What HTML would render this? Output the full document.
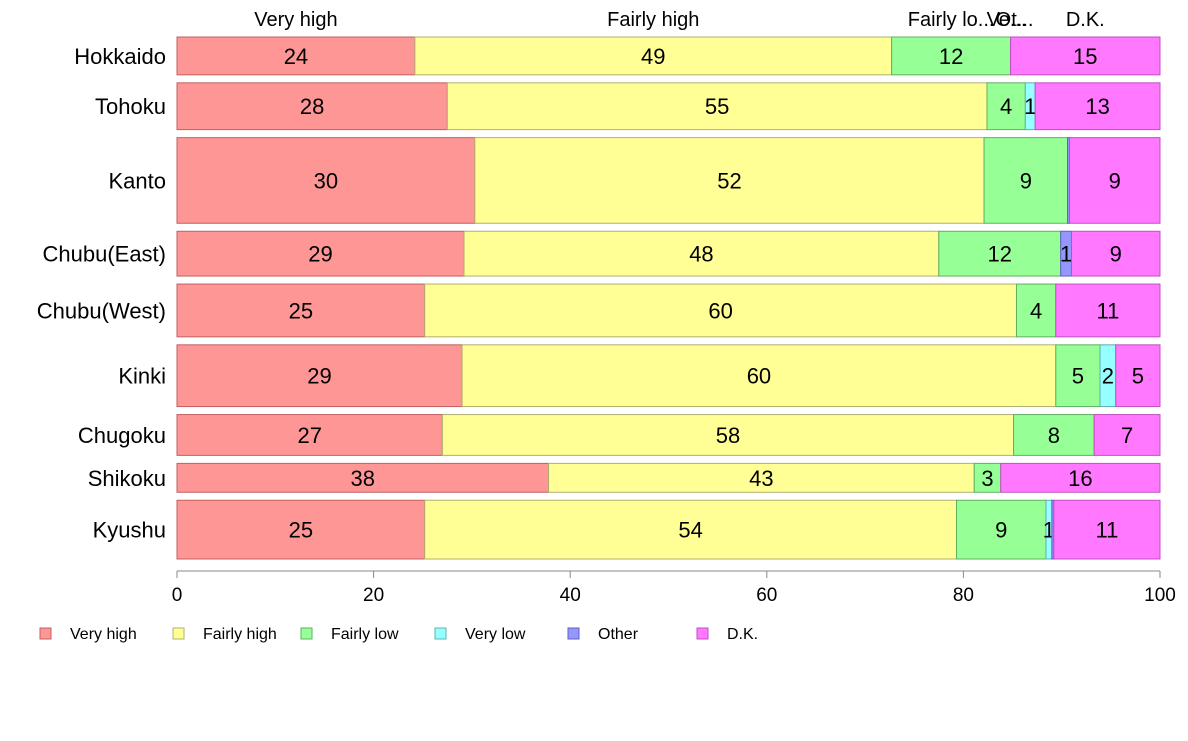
<!DOCTYPE html>
<html><head><meta charset="utf-8"><style>
body{margin:0;background:#fff;font-family:"Liberation Sans",sans-serif}
svg text{font-family:"Liberation Sans",sans-serif}
</style></head><body>
<svg id="chart" width="1188" height="736" xmlns="http://www.w3.org/2000/svg"></svg>
<script>
const regions=["Hokkaido","Tohoku","Kanto","Chubu(East)","Chubu(West)","Kinki","Chugoku","Shikoku","Kyushu"];
const weights=[38,47,86,45,53,62,41,29,59];
const veryHigh=[24.2,27.5,30.3,29.2,25.2,29.0,27.0,37.8,25.2];
const fairlyHigh=[48.5,54.9,51.8,48.3,60.2,60.4,58.1,43.3,54.1];
const fairlyLow=[12.1,3.9,8.5,12.4,4.0,4.5,8.2,2.7,9.1];
const veryLow=[0,1.0,0,0,0,1.6,0,0,0.6];
const other=[0,0,0.2,1.1,0,0,0,0,0.2];
const dk=[15.2,12.7,9.2,9.0,10.6,4.5,6.7,16.2,10.8];
const seriesNames=["Very high","Fairly high","Fairly low","Very low","Other","D.K."];
const topLabels=["Very high","Fairly high","Fairly lo...","Ve...","Ot...","D.K."];
const colors=["#ff9696","#ffff96","#96ff96","#96ffff","#9696ff","#ff78ff"];
const strokes=["#c06060","#b0b070","#60b060","#60b0b0","#6060c0","#c050c0"];
const xTicks=[0,20,40,60,80,100];
const series=[veryHigh,fairlyHigh,fairlyLow,veryLow,other,dk];
const NS="http://www.w3.org/2000/svg";
const svg=document.getElementById("chart");
const X0=177,X1=1160,Y0=37,Y1=559,GAP=8;
const x=v=>X0+(X1-X0)*v/100;
function mk(t,a,txt){const e=document.createElementNS(NS,t);for(const k in a)e.setAttribute(k,a[k]);if(txt!=null)e.textContent=txt;svg.appendChild(e);return e;}
const totalW=weights.reduce((a,b)=>a+b,0);
const avail=(Y1-Y0)-GAP*(regions.length-1);
let y=Y0;
regions.forEach((r,i)=>{
  const h=avail*weights[i]/totalW;
  const lab=mk("text",{x:166,y:y+h/2+8,"text-anchor":"end","font-size":22,fill:"#000"},r);
  
  
  let cum=0;
  series.forEach((s,j)=>{
    const v=s[i];const xa=x(cum),xb=x(cum+v);
    if(v>0){
      const rc=mk("rect",{x:xa,y:y,width:xb-xa,height:h,fill:colors[j],stroke:strokes[j],"stroke-width":1});
      
      
      const rv=Math.round(v);
      if(rv>=1){
        const t=mk("text",{x:(xa+xb)/2,y:y+h/2+8,"text-anchor":"middle","font-size":22,fill:"#000"},rv);
        
        
      }
    }
    if(i===0){
      const tl=mk("text",{x:(xa+xb)/2+(j===3?-4:j===4?4:0),y:26,"text-anchor":"middle","font-size":20,fill:"#000"},topLabels[j]);
      
      
    }
    cum+=v;
  });
  y+=h+GAP;
});
const ax=mk("line",{x1:X0,y1:571,x2:X1,y2:571,stroke:"#888"});


xTicks.forEach(t=>{
  const tk=mk("line",{x1:x(t),y1:571,x2:x(t),y2:578,stroke:"#888"});
  
  
  const tt=mk("text",{x:x(t),y:601,"text-anchor":"middle","font-size":19,fill:"#000"},t);
  
  
});
const legX=[40,173,301,435,568,697];
seriesNames.forEach((n,j)=>{
  const b=mk("rect",{x:legX[j],y:628,width:11,height:11,fill:colors[j],stroke:strokes[j]});
  
  
  const t=mk("text",{x:legX[j]+30,y:639,"font-size":16,fill:"#000"},n);
  
  
});
</script>
</body></html>
